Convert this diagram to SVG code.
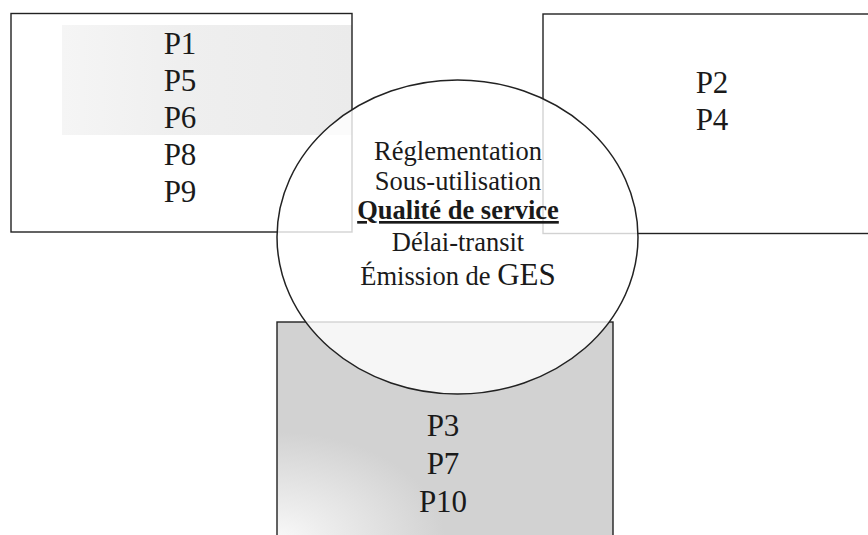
<svg xmlns="http://www.w3.org/2000/svg" width="868" height="535" viewBox="0 0 868 535">
  <style>
    .box { fill: none; stroke: #222; stroke-width: 1.4; }
    text { font-family: 'Liberation Serif', 'Times New Roman', serif; fill: #1a1a1a; text-anchor: middle; }
    .lbl { font-size: 31px; }
    .mid { font-size: 26.5px; }
  </style>
  <defs>
    <linearGradient id="shadeTop" x1="0" y1="0" x2="1" y2="0">
      <stop offset="0" stop-color="#f5f5f5"/>
      <stop offset="0.4" stop-color="#efefef"/>
      <stop offset="1" stop-color="#ebebeb"/>
    </linearGradient>
    <radialGradient id="shadeBottom" cx="0" cy="1" r="0.5" gradientUnits="objectBoundingBox">
      <stop offset="0" stop-color="#fafafa"/>
      <stop offset="0.3" stop-color="#ededed"/>
      <stop offset="1" stop-color="#d2d2d2"/>
    </radialGradient>
  </defs>

  <rect width="868" height="535" fill="#ffffff"/>

  <!-- bottom box: P3, P7, P10 -->
  <g id="box-bottom">
    <rect x="277" y="322" width="336" height="220" fill="url(#shadeBottom)"/>
    <rect class="box" x="277" y="322" width="336" height="220"/>
  </g>

  <!-- left box: P1, P5, P6, P8, P9 -->
  <g id="box-left">
    <rect x="62" y="25" width="290" height="110" fill="url(#shadeTop)"/>
    <rect class="box" x="11" y="13.5" width="341" height="218.5"/>
  </g>

  <!-- right box: P2, P4 (runs off the right edge) -->
  <g id="box-right">
    <rect class="box" x="543" y="14" width="340" height="219.5"/>
  </g>

  <!-- central ellipse with the shared criteria -->
  <g id="criteria" font-family="Liberation Serif, serif">
    <ellipse cx="457.5" cy="237" rx="180.5" ry="157" fill="#ffffff" fill-opacity="0.8" stroke="#222" stroke-width="1.5"/>
    <text class="mid" x="458" y="160">Réglementation</text>
    <text class="mid" x="458" y="190">Sous-utilisation</text>
    <text class="mid" x="458" y="219" font-weight="bold" text-decoration="underline">Qualité de service</text>
    <text class="mid" x="458" y="251">Délai-transit</text>
    <text class="mid" x="458" y="285">Émission de <tspan font-size="31px">GES</tspan></text>
  </g>

  <g id="labels-left" font-family="Liberation Serif, serif">
    <text class="lbl" x="180" y="54">P1</text>
    <text class="lbl" x="180" y="91">P5</text>
    <text class="lbl" x="180" y="128">P6</text>
    <text class="lbl" x="180" y="165">P8</text>
    <text class="lbl" x="180" y="202">P9</text>
  </g>
  <g id="labels-right" font-family="Liberation Serif, serif">
    <text class="lbl" x="712" y="93">P2</text>
    <text class="lbl" x="712" y="130">P4</text>
  </g>
  <g id="labels-bottom" font-family="Liberation Serif, serif">
    <text class="lbl" x="443" y="436">P3</text>
    <text class="lbl" x="443" y="474">P7</text>
    <text class="lbl" x="443" y="512">P10</text>
  </g>
</svg>
